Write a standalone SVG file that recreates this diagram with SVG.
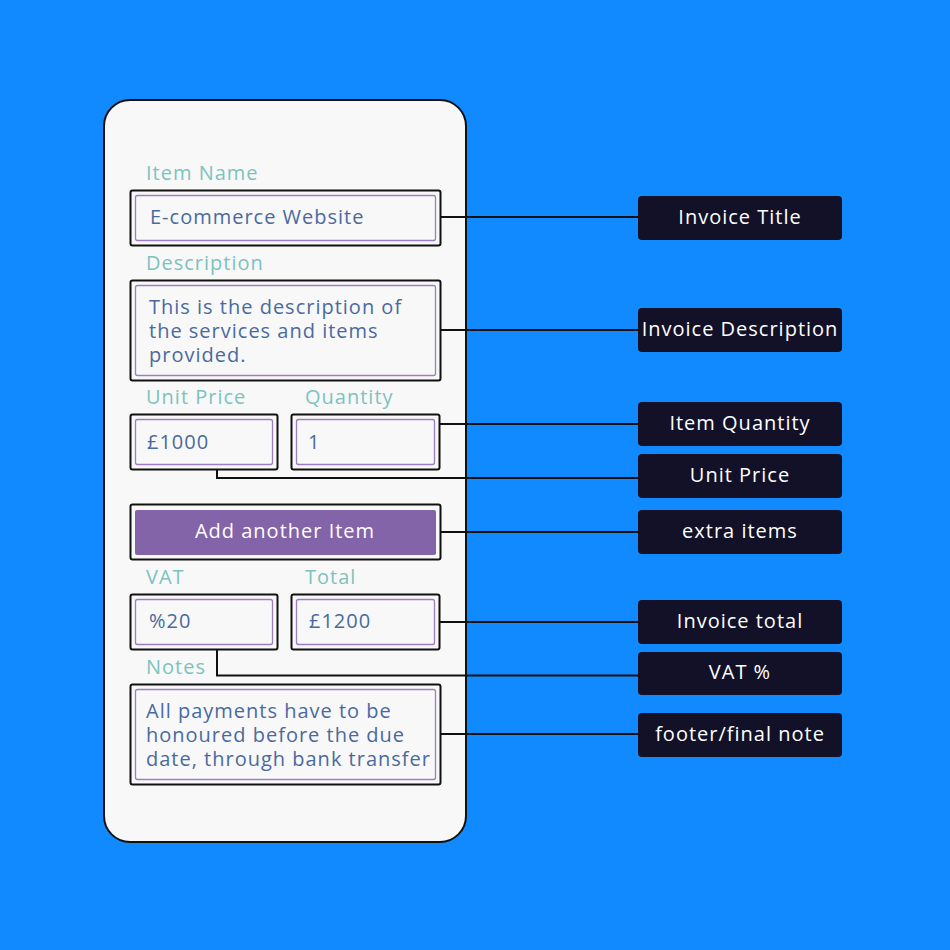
<svg xmlns="http://www.w3.org/2000/svg" width="950" height="950" viewBox="0 0 950 950">
<style>
.lbl{font-family:"Open Sans","Liberation Sans",sans-serif;font-size:20px;letter-spacing:1px;fill:#7CC3BE}
.val{font-family:"Open Sans","Liberation Sans",sans-serif;font-size:20px;letter-spacing:1px;fill:#4A6A9E}
.outer{fill:#f8f8f8;stroke:#111;stroke-width:2}
.inner{fill:#f8f8f8;stroke:#9B7FC0;stroke-width:1.3}
.tag rect{fill:#121127}
.tag text{font-family:"Open Sans","Liberation Sans",sans-serif;font-size:20px;letter-spacing:1px;fill:#fff;text-anchor:middle}
.con{fill:none;stroke:#111;stroke-width:2}
</style>
<rect width="950" height="950" fill="#118AFF"/>
<g id="phone">
<rect x="104" y="100" width="362" height="742" rx="26" fill="#f8f8f8" stroke="#111" stroke-width="2"/>
</g>
<g id="connectors">
<path class="con" d="M441 217H638"/>
<path class="con" d="M441 330H638"/>
<path class="con" d="M440 424H638"/>
<path class="con" d="M217 470V478H638"/>
<path class="con" d="M441 532H638"/>
<path class="con" d="M440 622H638"/>
<path class="con" d="M217 650V675.5H638"/>
<path class="con" d="M441 734H638"/>
</g>
<g id="item-name">
<text class="lbl" x="146" y="180">Item Name</text>
<rect class="outer" x="130.5" y="190.5" width="310" height="55" rx="2"/>
<rect class="inner" x="135.5" y="195.5" width="300" height="45" rx="2"/>
<text class="val" x="150" y="224">E-commerce Website</text>
</g>
<g id="description">
<text class="lbl" x="146" y="270">Description</text>
<rect class="outer" x="130.5" y="280.5" width="310" height="100" rx="2"/>
<rect class="inner" x="135.5" y="285.5" width="300" height="90" rx="2"/>
<text class="val" x="149" y="314">This is the description of</text>
<text class="val" x="149" y="338">the services and items</text>
<text class="val" x="149" y="362">provided.</text>
</g>
<g id="unit-price">
<text class="lbl" x="146" y="404">Unit Price</text>
<rect class="outer" x="130.5" y="414.5" width="147" height="55" rx="2"/>
<rect class="inner" x="135.5" y="419.5" width="137" height="45" rx="2"/>
<text class="val" x="147" y="449">£1000</text>
</g>
<g id="quantity">
<text class="lbl" x="305" y="404">Quantity</text>
<rect class="outer" x="291.5" y="414.5" width="148" height="55" rx="2"/>
<rect class="inner" x="296.5" y="419.5" width="138" height="45" rx="2"/>
<text class="val" x="308" y="449">1</text>
</g>
<g id="add-item">
<rect class="outer" x="130.5" y="504.5" width="310" height="55" rx="2"/>
<rect x="135" y="510" width="301" height="45" rx="2" fill="#8464A8"/>
<text x="285" y="538" text-anchor="middle" font-family="Open Sans, Liberation Sans, sans-serif" font-size="20" letter-spacing="1" fill="#fff">Add another Item</text>
</g>
<g id="vat">
<text class="lbl" x="146" y="584">VAT</text>
<rect class="outer" x="130.5" y="594.5" width="147" height="55" rx="2"/>
<rect class="inner" x="135.5" y="599.5" width="137" height="45" rx="2"/>
<text class="val" x="149" y="628">%20</text>
</g>
<g id="total">
<text class="lbl" x="305" y="584">Total</text>
<rect class="outer" x="291.5" y="594.5" width="148" height="55" rx="2"/>
<rect class="inner" x="296.5" y="599.5" width="138" height="45" rx="2"/>
<text class="val" x="309" y="628">£1200</text>
</g>
<g id="notes">
<text class="lbl" x="146" y="674">Notes</text>
<rect class="outer" x="130.5" y="684.5" width="310" height="100" rx="2"/>
<rect class="inner" x="135.5" y="689.5" width="300" height="90" rx="2"/>
<text class="val" x="146" y="718">All payments have to be</text>
<text class="val" x="146" y="742">honoured before the due</text>
<text class="val" x="146" y="766">date, through bank transfer</text>
</g>
<g id="tag-invoice-title" class="tag"><rect x="638" y="196" width="204" height="44" rx="4"/><text x="740" y="224">Invoice Title</text></g>
<g id="tag-invoice-description" class="tag"><rect x="638" y="308" width="204" height="44" rx="4"/><text x="740" y="336">Invoice Description</text></g>
<g id="tag-item-quantity" class="tag"><rect x="638" y="402" width="204" height="44" rx="4"/><text x="740" y="430">Item Quantity</text></g>
<g id="tag-unit-price" class="tag"><rect x="638" y="454" width="204" height="44" rx="4"/><text x="740" y="482">Unit Price</text></g>
<g id="tag-extra-items" class="tag"><rect x="638" y="510" width="204" height="44" rx="4"/><text x="740" y="538">extra items</text></g>
<g id="tag-invoice-total" class="tag"><rect x="638" y="600" width="204" height="44" rx="4"/><text x="740" y="628">Invoice total</text></g>
<g id="tag-vat" class="tag"><rect x="638" y="652" width="204" height="43" rx="4"/><text x="740" y="679">VAT %</text></g>
<g id="tag-footer" class="tag"><rect x="638" y="713" width="204" height="44" rx="4"/><text x="740" y="741">footer/final note</text></g>
</svg>
